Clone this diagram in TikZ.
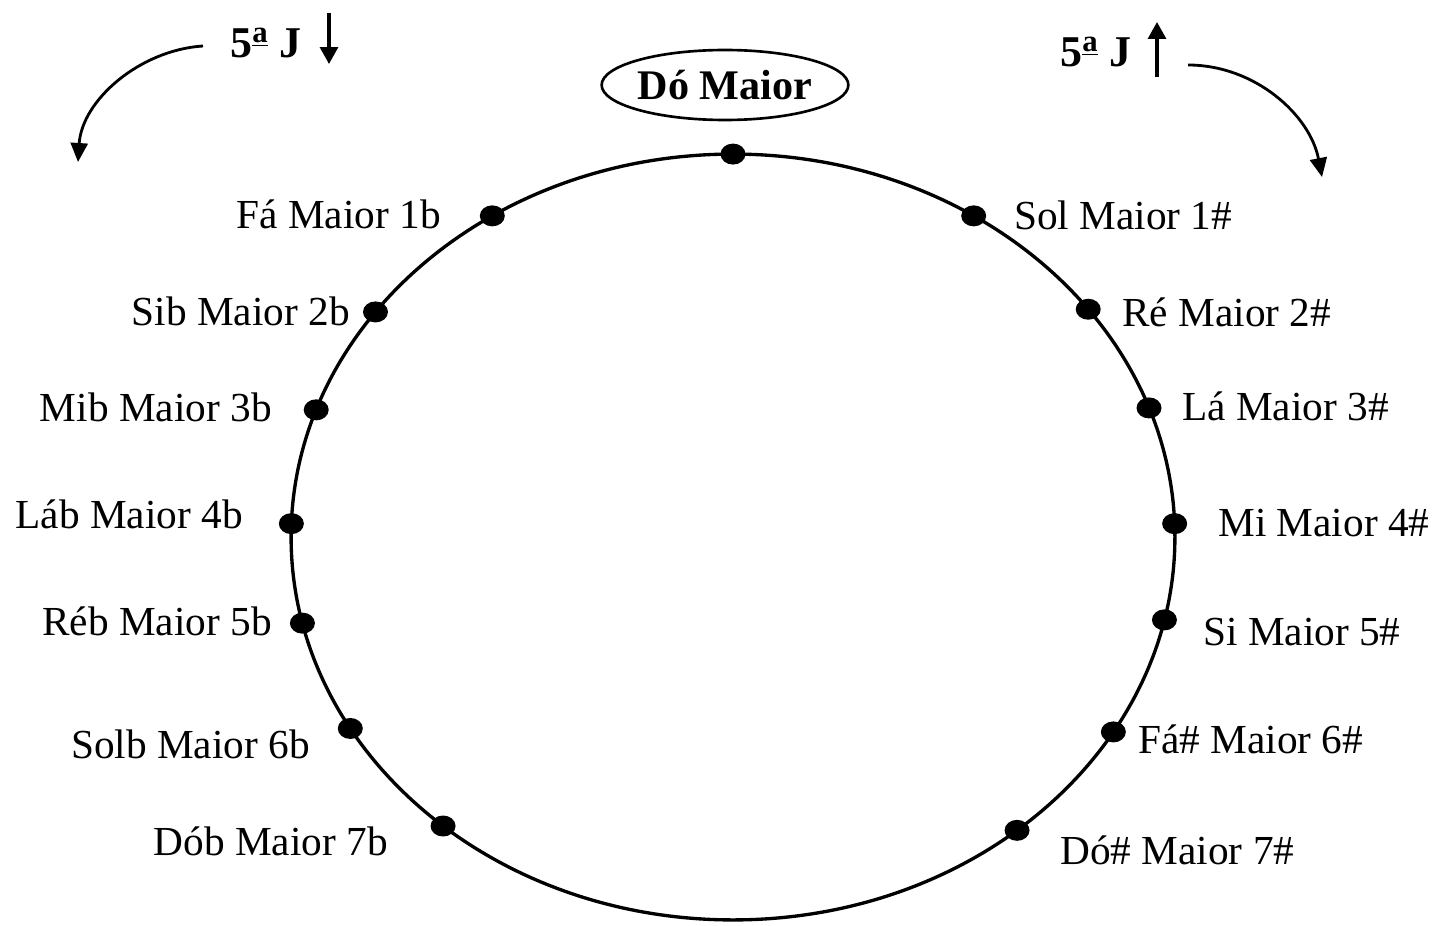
\documentclass[tikz,border=0pt]{standalone}
\usepackage{fontspec}
\setmainfont{Liberation Serif}
\usetikzlibrary{arrows.meta, shapes.geometric, positioning}
\tikzset{
  key/.style={font=\fontsize{23.5}{28}\selectfont, inner sep=0pt},
  fifth/.style={font=\fontsize{25}{30}\selectfont\bfseries, inner sep=0pt},
  dot/.style={ellipse, fill=black, minimum width=0.5cm, minimum height=0.42cm, inner sep=0pt},
  tonic/.style={ellipse, draw, line width=1.5pt, inner sep=0pt,
    font=\fontsize{24}{28}\selectfont\bfseries, minimum width=4.9cm, minimum height=1.4cm},
  turn/.style={line width=1.6pt, -{Triangle[length=0.38cm, width=0.34cm]}},
  tick/.style={line width=1.8pt, -{Triangle[length=0.34cm, width=0.36cm]}},
}

\begin{document}
\begin{tikzpicture}[x=0.02cm, y=-0.02cm]
\useasboundingbox (0,0) rectangle (1437,926);

\coordinate (ctr) at (733,537);
\draw[line width=1.9pt] (ctr) ellipse (8.84cm and 7.66cm);

% the keys on the circle
\foreach \name/\ang in {do/90, fa/123, sib/144, mib/160.6, lab/178, reb/193,
    solb/210, dob/229, sol/57, re/36.5, la/19.7, mi/2, si/-12.5, fas/-30.6, dos/-50}
  \node[dot] (\name) at ([shift={(ctr)}] \ang:8.84cm and 7.66cm) {};

\node[tonic] (tonic) at (725,85) {Dó Maior};

% flats
\node[key, anchor=base east] (lfa)   at (441,228) {Fá Maior 1b};
\node[key, anchor=base east] (lsib)  at (350,325) {Sib Maior 2b};
\node[key, anchor=base east] (lmib)  at (272,421) {Mib Maior 3b};
\node[key, anchor=base east] (llab)  at (243,528) {Láb Maior 4b};
\node[key, anchor=base east] (lreb)  at (272,635) {Réb Maior 5b};
\node[key, anchor=base east] (lsolb) at (310,758) {Solb Maior 6b};
\node[key, anchor=base east] (ldob)  at (388,855) {Dób Maior 7b};

% sharps
\node[key, anchor=base west] (lsol) at (1014,229) {Sol Maior 1\#};
\node[key, anchor=base west] (lre)  at (1122,326) {Ré Maior 2\#};
\node[key, anchor=base west] (lla)  at (1182,420) {Lá Maior 3\#};
\node[key, anchor=base west] (lmi)  at (1218,536) {Mi Maior 4\#};
\node[key, anchor=base west] (lsi)  at (1203,645) {Si Maior 5\#};
\node[key, anchor=base west] (lfas) at (1138,753) {Fá\# Maior 6\#};
\node[key, anchor=base west] (ldos) at (1060,864) {Dó\# Maior 7\#};

% fifths down / up
\node[fifth, anchor=base west] (down) at (230,58) {5\textsuperscript{\underline{a}} J};
\node[fifth, anchor=base west] (up)   at (1060,67) {5\textsuperscript{\underline{a}} J};
\coordinate (downa) at (329,13);
\coordinate (downb) at (329,64);
\coordinate (upa) at (1157,77);
\coordinate (upb) at (1157,22);
\draw[tick] (downa) -- (downb);
\draw[tick] (upa) -- (upb);

\coordinate (ls) at (203,46);
\coordinate (le) at (78,162);
\coordinate (rs) at (1188,65);
\coordinate (re) at (1322,177);
\draw[turn] (ls) .. controls (140,50) and (82,100) .. (le);
\draw[turn] (rs) .. controls (1255,65) and (1310,115) .. (re);
\end{tikzpicture}
\end{document}
